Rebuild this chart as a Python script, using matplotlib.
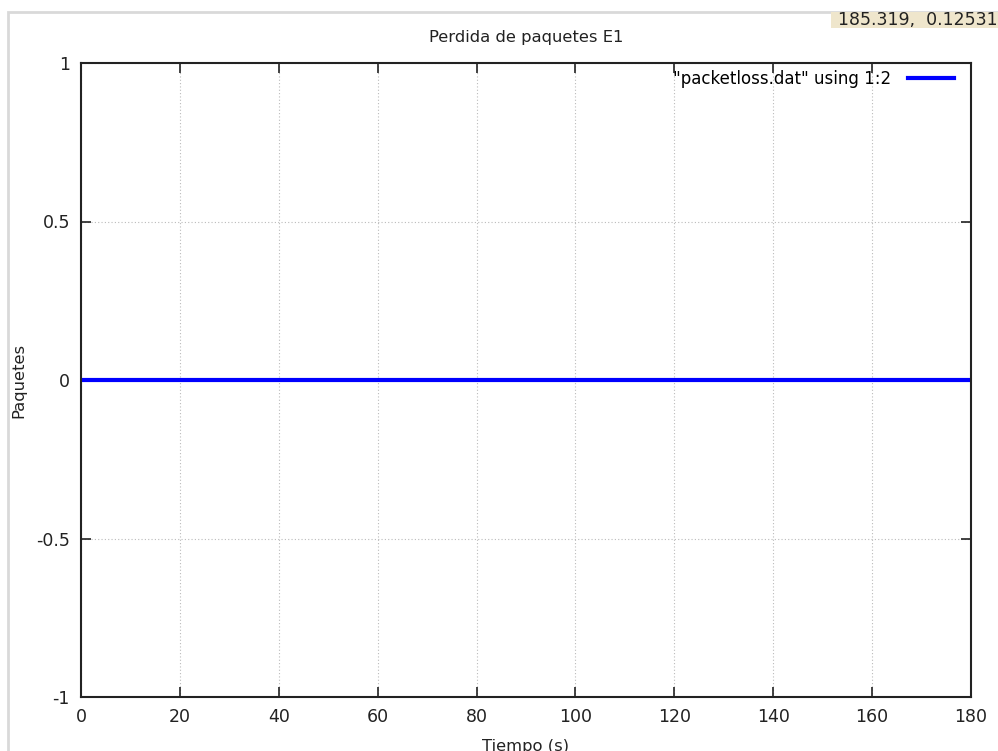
import matplotlib.pyplot as plt
from matplotlib.patches import Rectangle

# Data (packet loss is zero over the whole run)
tiempo = [0, 20, 40, 60, 80, 100, 120, 140, 160, 180]
paquetes = [0, 0, 0, 0, 0, 0, 0, 0, 0, 0]

x_ticks = [0, 20, 40, 60, 80, 100, 120, 140, 160, 180]
y_ticks = [-1, -0.5, 0, 0.5, 1]
y_tick_labels = ["-1", "-0.5", "0", "0.5", "1"]

W, H = 998, 751
fig = plt.figure(figsize=(W / 100, H / 100), dpi=100)

# gnuplot window frame (light gray border) and mouse coordinate box
fig.patches.append(Rectangle((8 / W, -0.1), 1.2, 1 - 12 / H + 0.1,
                             transform=fig.transFigure, fill=False,
                             edgecolor="#d9d9d9", linewidth=2))
fig.patches.append(Rectangle((831 / W, 1 - 28 / H), 0.3, 16 / H,
                             transform=fig.transFigure, facecolor="#efe6cc",
                             edgecolor="none"))
fig.text(838 / W, 1 - 20 / H, "185.319,  0.125319", fontsize=12.5,
         va="center", ha="left", color="#222222")

# plot area
left, right, top, bottom = 81, 971, 63, 697
ax = fig.add_axes([left / W, 1 - bottom / H, (right - left) / W, (bottom - top) / H])

ax.plot(tiempo, paquetes, color="#0000ff", linewidth=3,
        label='"packetloss.dat" using 1:2')

ax.set_xlim(0, 180)
ax.set_ylim(-1, 1)
ax.set_xticks(x_ticks)
ax.set_yticks(y_ticks)
ax.set_yticklabels(y_tick_labels)
ax.tick_params(direction="in", top=True, right=True, length=7, width=1.2,
               labelsize=12.5, colors="#222222", pad=8)
ax.grid(True, linestyle=(0, (1, 2)), color="#bbbbbb", linewidth=0.8)
for s in ax.spines.values():
    s.set_linewidth(1.5)
    s.set_color("#222222")

ax.set_title("Perdida de paquetes E1", fontsize=11.8, color="#222222", pad=15)
ax.set_xlabel("Tiempo (s)", fontsize=11.8, color="#222222", labelpad=9)
ax.set_ylabel("Paquetes", fontsize=11.8, color="#222222", labelpad=7)

leg = ax.legend(loc="upper right", bbox_to_anchor=(1, 1 + 10 / 634),
                frameon=False, fontsize=12, markerfirst=False,
                handlelength=2.8, borderaxespad=0.6, handletextpad=1.0)

fig.savefig("out.png", dpi=100)
